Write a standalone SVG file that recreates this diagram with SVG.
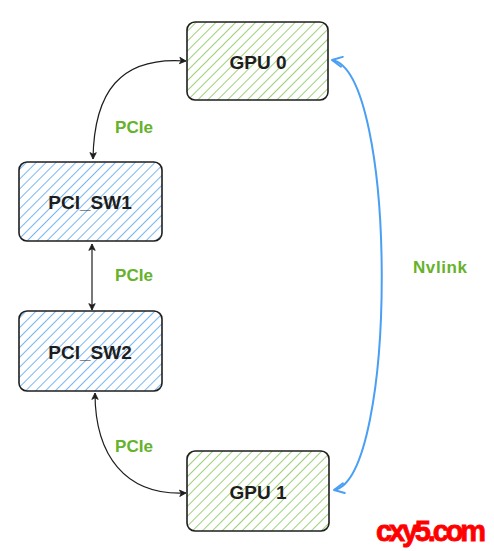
<svg xmlns="http://www.w3.org/2000/svg" width="494" height="551" viewBox="0 0 494 551">
<defs>
<pattern id="hg" width="7" height="7" patternUnits="userSpaceOnUse" patternTransform="rotate(45)">
<line x1="0" y1="0" x2="0" y2="7" stroke="#93cc6b" stroke-width="1.8"/>
</pattern>
<pattern id="hb" width="7" height="7" patternUnits="userSpaceOnUse" patternTransform="rotate(45)">
<line x1="0" y1="0" x2="0" y2="7" stroke="#6aaef0" stroke-width="1.8"/>
</pattern>
<marker id="ak" viewBox="0 0 10 10" refX="9" refY="5" markerWidth="8" markerHeight="8" orient="auto-start-reverse" markerUnits="userSpaceOnUse">
<path d="M1,1 L9,5 L1,9 L3,5 Z" fill="#1e1e1e" stroke="#1e1e1e" stroke-width="1"/>
</marker>
<marker id="ab" viewBox="0 0 12 12" refX="11" refY="6" markerWidth="12" markerHeight="12" orient="auto-start-reverse" markerUnits="userSpaceOnUse">
<path d="M1,1 L11,6 L1,11" fill="none" stroke="#4a9ff5" stroke-width="2" stroke-linecap="round" stroke-linejoin="round"/>
</marker>
</defs>
<style>
.box{stroke:#1e1e1e;stroke-width:1.6}
.nt{font-family:"Liberation Sans",sans-serif;font-weight:bold;font-size:19px;fill:#1e1e1e;text-anchor:middle}
.lb{font-family:"Liberation Sans",sans-serif;font-weight:bold;font-size:17px;fill:#66b22a;text-anchor:middle}
.ck{fill:none;stroke:#1e1e1e;stroke-width:1.2}
.cb{fill:none;stroke:#4a9ff5;stroke-width:2}
</style>
<g id="connectors">
<path class="ck" d="M186 61 C120 56, 94 92, 93 159" marker-start="url(#ak)" marker-end="url(#ak)"/>
<path class="ck" d="M92 244 L92 310" marker-start="url(#ak)" marker-end="url(#ak)"/>
<path class="ck" d="M95 393 C95 455, 125 496, 186 493" marker-start="url(#ak)" marker-end="url(#ak)"/>
<path class="cb" d="M332 60 C398 72, 398 478, 334 490" marker-start="url(#ab)" marker-end="url(#ab)"/>
</g>
<g id="gpu0">
<rect class="box" x="187" y="22" width="141" height="78" rx="8" fill="url(#hg)"/>
<text class="nt" x="258" y="69">GPU 0</text>
</g>
<g id="pci_sw1">
<rect class="box" x="19" y="162" width="143" height="79" rx="8" fill="url(#hb)"/>
<text class="nt" x="90" y="209">PCI_SW1</text>
</g>
<g id="pci_sw2">
<rect class="box" x="19" y="311" width="143" height="80" rx="8" fill="url(#hb)"/>
<text class="nt" x="90" y="359">PCI_SW2</text>
</g>
<g id="gpu1">
<rect class="box" x="187" y="451" width="142" height="80" rx="8" fill="url(#hg)"/>
<text class="nt" x="258" y="499">GPU 1</text>
</g>
<g id="labels">
<text class="lb" x="134" y="133">PCIe</text>
<text class="lb" x="134" y="281">PCIe</text>
<text class="lb" x="134" y="452">PCIe</text>
<text class="lb" x="440" y="273" textLength="54">Nvlink</text>
<text x="431" y="541" font-family="'Liberation Sans Narrow','Liberation Sans',sans-serif" font-weight="bold" font-size="29" fill="#ff0000" stroke="#ff0000" stroke-width="0.8" text-anchor="middle" textLength="110">cxy5.com</text>
</g>
</svg>
